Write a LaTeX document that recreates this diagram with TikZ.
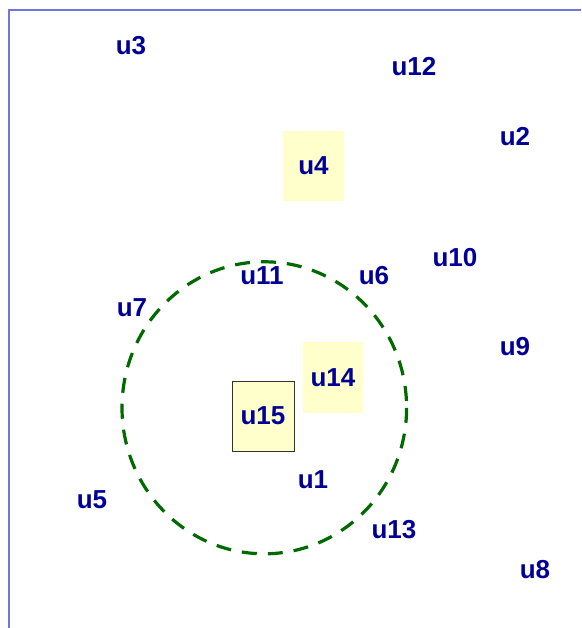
\documentclass[tikz,border=0pt]{standalone}
\usepackage{fontspec}
\setmainfont{Liberation Sans}
\definecolor{ulabel}{RGB}{0,0,150}
\definecolor{ubox}{RGB}{255,255,204}
\definecolor{uring}{RGB}{0,105,0}
\definecolor{uframe}{RGB}{115,115,222}
\begin{document}
\begin{tikzpicture}[
   x = 1pt, y = -1pt,
   every node/.style = {text=ulabel, inner sep=0pt,
      font=\fontsize{26}{26}\selectfont\bfseries},
   hilite/.style = {fill=ubox, minimum width=61pt, minimum height=70pt},
]
   \useasboundingbox (0,0) rectangle (581,628);
   % frame
   \draw [uframe, line width = 2.2pt] (9,628) -- (9,10) -- (581,10);
   % highlighted boxes
   \node [hilite] (u4) at (313.5,166) {u4};
   \node [hilite, minimum width=60pt, minimum height=71pt] (u14) at (333,377.5) {u14};
   \node [hilite, minimum width=62pt, draw=black!80, line width=0.8pt] (u15) at (263,416) {u15};
   % ring
   \draw [uring, line width = 3.2pt, dash pattern = on 15pt off 11pt]
      (264.3,407.8) ellipse [x radius = 142.3, y radius = 146];
   % free labels
   \node (u3)  at (131,46)  {u3};
   \node (u12) at (414,67)  {u12};
   \node (u2)  at (515,137) {u2};
   \node (u10) at (455,258) {u10};
   \node (u11) at (262,276) {u11};
   \node (u6)  at (374,276) {u6};
   \node (u7)  at (132,308) {u7};
   \node (u9)  at (515,347) {u9};
   \node (u1)  at (313,480) {u1};
   \node (u5)  at (92,500)  {u5};
   \node (u13) at (394,530) {u13};
   \node (u8)  at (535,570) {u8};
\end{tikzpicture}
\end{document}
